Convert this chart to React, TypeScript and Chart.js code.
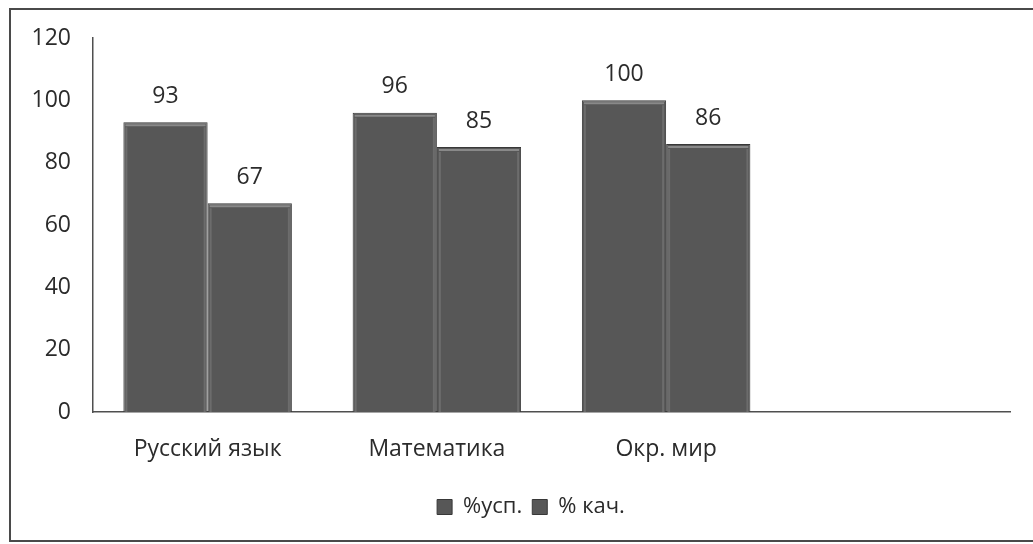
import React, { useEffect, useRef } from "react";
import { Chart, registerables } from "chart.js";

Chart.register(...registerables);

const categories = ["Русский язык", "Математика", "Окр. мир", ""];
const seriesNames = ["%усп.", "% кач."];
const uspValues = [93, 96, 100, null];
const kachValues = [67, 85, 86, null];
const yMin = 0;
const yMax = 120;
const yStep = 20;

const FONT = "'Open Sans', 'Noto Sans', sans-serif";
const BAR_COLOR = "#575757";
const TEXT_COLOR = "#2b2b2b";

const framePlugin = {
  id: "frame",
  beforeDraw(chart: any) {
    const { ctx, width } = chart;
    ctx.save();
    ctx.fillStyle = "#ffffff";
    ctx.fillRect(0, 0, width, chart.height);
    ctx.strokeStyle = "#4a4a4a";
    ctx.lineWidth = 2;
    ctx.beginPath();
    ctx.moveTo(width + 2, 9);
    ctx.lineTo(10, 9);
    ctx.lineTo(10, 541);
    ctx.lineTo(width + 2, 541);
    ctx.stroke();
    ctx.restore();
  },
};

const legendShiftPlugin = {
  id: "legendShift",
  afterLayout(chart: any) {
    if (chart.legend) {
      chart.legend.left += 26;
      chart.legend.right += 26;
    }
  },
};

const bevelPlugin = {
  id: "bevel",
  afterDatasetsDraw(chart: any) {
    const { ctx } = chart;
    ctx.save();
    chart.data.datasets.forEach((ds: any, di: number) => {
      const meta = chart.getDatasetMeta(di);
      meta.data.forEach((bar: any, i: number) => {
        if (ds.data[i] == null) return;
        const { x, y, base, width } = bar.getProps(["x", "y", "base", "width"], true);
        const l = x - width / 2;
        const r = x + width / 2;
        ctx.strokeStyle = "rgba(200,200,200,0.45)";
        ctx.lineWidth = 2;
        ctx.beginPath();
        ctx.moveTo(l + 2, y + 3);
        ctx.lineTo(r - 2, y + 3);
        ctx.stroke();
        ctx.strokeStyle = "rgba(150,150,150,0.35)";
        ctx.beginPath();
        ctx.moveTo(l + 3, y + 5);
        ctx.lineTo(l + 3, base);
        ctx.moveTo(r - 3, y + 5);
        ctx.lineTo(r - 3, base);
        ctx.stroke();
      });
    });
    ctx.restore();
  },
};

const dataLabelPlugin = {
  id: "dataLabels",
  afterDatasetsDraw(chart: any) {
    const { ctx } = chart;
    ctx.save();
    ctx.font = `23px ${FONT}`;
    ctx.fillStyle = TEXT_COLOR;
    ctx.textAlign = "center";
    ctx.textBaseline = "middle";
    chart.data.datasets.forEach((ds: any, di: number) => {
      const meta = chart.getDatasetMeta(di);
      meta.data.forEach((bar: any, i: number) => {
        const v = ds.data[i];
        if (v == null) return;
        ctx.fillText(String(v), bar.x, bar.y - 26);
      });
    });
    ctx.restore();
  },
};

export default function App() {
  const canvasRef = useRef<HTMLCanvasElement | null>(null);

  useEffect(() => {
    if (!canvasRef.current) return;
    const chart = new Chart(canvasRef.current, {
      type: "bar",
      data: {
        labels: categories,
        datasets: [
          {
            label: seriesNames[0],
            data: uspValues,
            backgroundColor: BAR_COLOR,
            borderColor: "#383838",
            borderWidth: 1,
          },
          {
            label: seriesNames[1],
            data: kachValues,
            backgroundColor: BAR_COLOR,
            borderColor: "#383838",
            borderWidth: 1,
          },
        ],
      },
      options: {
        responsive: false,
        animation: false,
        maintainAspectRatio: false,
        layout: { padding: { top: 38, left: 0, right: 23, bottom: 16 } },
        datasets: {
          bar: { categoryPercentage: 0.735, barPercentage: 1.0 },
        },
        scales: {
          y: {
            min: yMin,
            max: yMax,
            ticks: {
              stepSize: yStep,
              font: { family: FONT, size: 23 },
              color: TEXT_COLOR,
              padding: 14,
            },
            grid: { display: false },
            border: { display: true, color: "#4f4f4f", width: 1.5 },
            afterFit(scale: any) {
              scale.width = 93;
            },
          },
          x: {
            ticks: {
              font: { family: FONT, size: 23 },
              color: TEXT_COLOR,
              padding: 24,
              maxRotation: 0,
            },
            grid: { display: false, drawTicks: false },
            border: { display: true, color: "#4f4f4f", width: 1.5 },
            afterFit(scale: any) {
              scale.height = 74;
            },
          },
        },
        plugins: {
          legend: {
            position: "bottom",
            labels: {
              boxWidth: 15,
              boxHeight: 15,
              padding: 10,
              font: { family: FONT, size: 22 },
              color: TEXT_COLOR,
            },
          },
          tooltip: { enabled: false },
        },
      },
      plugins: [framePlugin, legendShiftPlugin, bevelPlugin, dataLabelPlugin],
    });
    return () => chart.destroy();
  }, []);

  return (
    <div style={{ position: "absolute", left: 0, top: 0, width: 1033, height: 544, background: "#fff" }}>
      <canvas ref={canvasRef} width={1033} height={544} />
    </div>
  );
}
